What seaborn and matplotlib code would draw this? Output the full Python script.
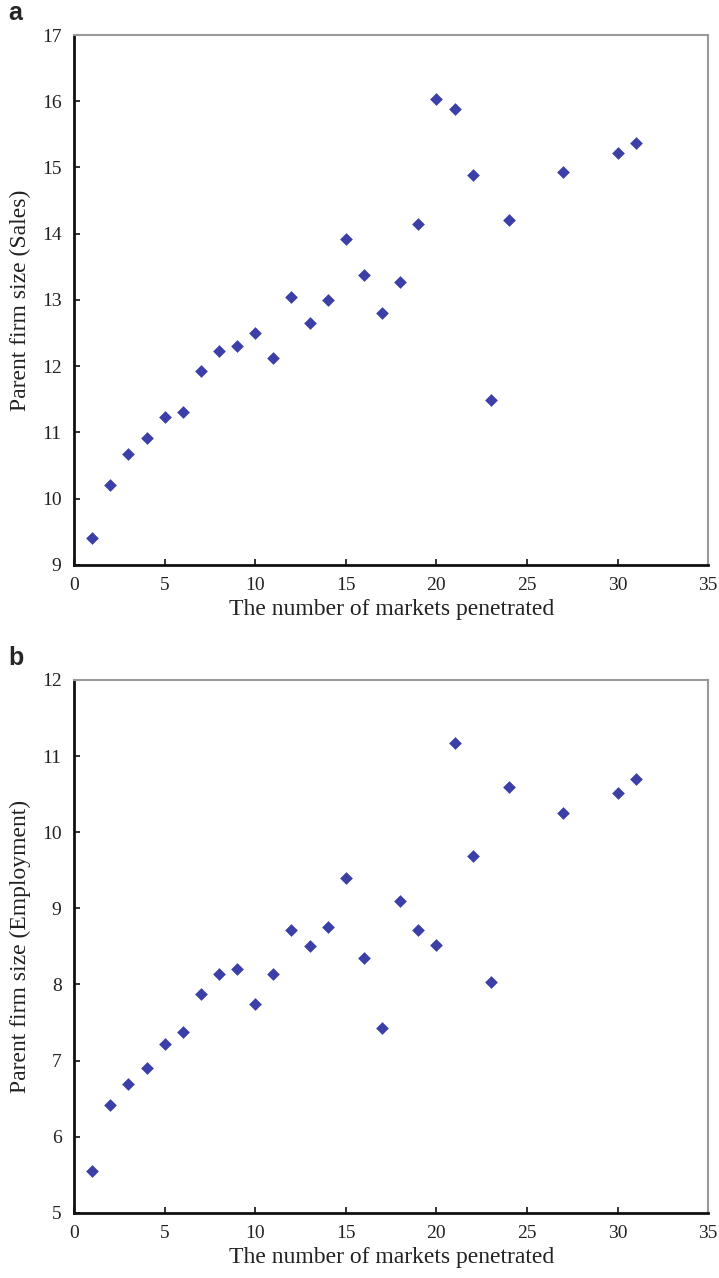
import pandas as pd
import seaborn as sns
import matplotlib.pyplot as plt

# Numero de mercados penetrados
markets = [1, 2, 3, 4, 5, 6, 7, 8, 9, 10, 11, 12, 13, 14, 15, 16, 17, 18, 19, 20,
           21, 22, 23, 24, 27, 30, 31]

# Tamano de la empresa matriz (ventas)
sales = [9.40, 10.20, 10.67, 10.92, 11.23, 11.31, 11.93, 12.23, 12.30, 12.50, 12.13,
         13.05, 12.65, 13.00, 13.92, 13.37, 12.80, 13.27, 14.14, 16.03, 15.88, 14.88,
         11.49, 14.21, 14.93, 15.22, 15.37]

# Tamano de la empresa matriz (empleo)
employment = [5.55, 6.42, 6.69, 6.91, 7.22, 7.38, 7.87, 8.14, 8.21, 7.74, 8.14,
              8.71, 8.50, 8.75, 9.40, 8.35, 7.43, 9.09, 8.71, 8.52, 11.17, 9.69,
              8.03, 10.59, 10.25, 10.52, 10.70]

x_ticks = [0, 5, 10, 15, 20, 25, 30, 35]

df = pd.DataFrame({'markets': markets, 'sales': sales, 'employment': employment})

sns.set_style("white")
plt.rcParams['font.family'] = ['Liberation Serif', 'DejaVu Serif']

fig = plt.figure(figsize=(7.19, 12.78), dpi=100)
ax_a = fig.add_axes([0.103, 0.558, 0.882, 0.4146])
ax_b = fig.add_axes([0.103, 0.0509, 0.882, 0.4171])

color = '#3b3fa8'


def style_axis(ax, y_lim, y_label):
    ax.set_xlim(0, 35)
    ax.set_ylim(*y_lim)
    ax.set_xticks(x_ticks)
    ax.set_yticks(range(y_lim[0], y_lim[1] + 1))
    ax.set_xlabel('The number of markets penetrated', fontsize=17, color='#222222', labelpad=3)
    ax.set_ylabel(y_label, fontsize=17, color='#222222', labelpad=8)
    ax.tick_params(axis='x', pad=9)
    ax.tick_params(axis='y', pad=9)
    ax.tick_params(direction='in', length=4, width=1.2, labelsize=14,
                   colors='#111111', labelcolor='#222222',
                   top=False, right=False, bottom=True, left=True)
    for side in ['left', 'bottom']:
        ax.spines[side].set_color('#111111')
        ax.spines[side].set_linewidth(2)
    for side in ['top', 'right']:
        ax.spines[side].set_color('#999999')
        ax.spines[side].set_linewidth(1.5)
    ax.grid(False)


sns.scatterplot(data=df, x='markets', y='sales', marker='D', s=42, color=color,
                edgecolor=color, linewidth=0, ax=ax_a, zorder=3)
style_axis(ax_a, (9, 17), 'Parent firm size (Sales)')

sns.scatterplot(data=df, x='markets', y='employment', marker='D', s=42, color=color,
                edgecolor=color, linewidth=0, ax=ax_b, zorder=3)
style_axis(ax_b, (5, 12), 'Parent firm size (Employment)')

# Letras de los paneles
fig.text(0.011, 0.9844, 'a', fontsize=18, fontweight='bold', family='Liberation Sans',
         va='baseline', ha='left')
fig.text(0.011, 0.4797, 'b', fontsize=18, fontweight='bold', family='Liberation Sans',
         va='baseline', ha='left')

fig.savefig('out.png', dpi=100)
